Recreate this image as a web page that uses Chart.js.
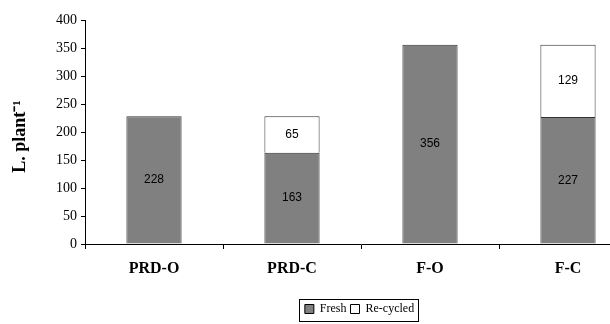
<!DOCTYPE html>
<html><head><meta charset="utf-8">
<script src="https://cdn.jsdelivr.net/npm/chart.js@4"></script>
<style>html,body{margin:0;padding:0;background:#fff;overflow:hidden}canvas{display:block}</style>
</head><body>
<canvas id="c" width="640" height="324"></canvas>
<script>
const categories = ["PRD-O", "PRD-C", "F-O", "F-C"];
const freshValues = [228, 163, 356, 227];
const recycledValues = [null, 65, null, 129];
const yTicks = [0, 50, 100, 150, 200, 250, 300, 350, 400];

const barLabels = {
  id: 'barLabels',
  afterDatasetsDraw(chart) {
    const ctx = chart.ctx;
    ctx.save();
    ctx.font = '12px "Liberation Sans", Arial, sans-serif';
    ctx.fillStyle = '#000';
    ctx.textAlign = 'center';
    ctx.textBaseline = 'middle';
    chart.data.datasets.forEach((ds, di) => {
      const meta = chart.getDatasetMeta(di);
      meta.data.forEach((bar, i) => {
        const v = ds.data[i];
        if (v == null) return;
        const p = bar.getProps(['x', 'y', 'base'], true);
        ctx.fillText(String(v), p.x, (p.y + p.base) / 2);
      });
    });
    ctx.restore();
  }
};
const legendBox = {
  id: 'legendBox',
  afterUpdate(chart) {
    const lg = chart.legend;
    if (!lg) return;
    const dx = 41, dy = 1;
    lg.left += dx; lg.right += dx; lg.top += dy; lg.bottom += dy;
    (lg.legendHitBoxes || []).forEach(h => { h.left += dx; h.top += dy; });
  },
  afterDraw(chart) {
    const lg = chart.legend;
    if (!lg || !lg.legendHitBoxes || !lg.legendHitBoxes.length) return;
    const hb = lg.legendHitBoxes;
    const x0 = hb[0].left - 6, x1 = hb[hb.length - 1].left + hb[hb.length - 1].width + 4;
    const y0 = hb[0].top - 4, y1 = hb[0].top + hb[0].height + 6;
    const ctx = chart.ctx;
    ctx.save();
    ctx.strokeStyle = '#000';
    ctx.lineWidth = 1;
    ctx.strokeRect(Math.round(x0) + 0.5, Math.round(y0) + 0.5, Math.round(x1 - x0), Math.round(y1 - y0));
    ctx.restore();
  }
};

new Chart(document.getElementById('c'), {
  type: 'bar',
  data: {
    labels: categories,
    datasets: [
      { label: 'Fresh', data: freshValues, backgroundColor: '#808080', borderColor: '#333333', borderWidth: 1, stack: 's', barPercentage: 0.4, categoryPercentage: 1.0 },
      { label: 'Re-cycled', data: recycledValues, backgroundColor: '#ffffff', borderColor: '#333333', borderWidth: 1, stack: 's', barPercentage: 0.4, categoryPercentage: 1.0 }
    ]
  },
  options: {
    responsive: false,
    animation: false,
    layout: { padding: { top: 20, right: 3, left: 0, bottom: 0 } },
    plugins: {
      tooltip: { enabled: false },
      legend: {
        position: 'bottom',
        labels: {
          boxWidth: 9, boxHeight: 9, padding: 4,
          color: '#000',
          font: { family: '"Liberation Serif", "Times New Roman", serif', size: 12 },
          generateLabels(chart) {
            return chart.data.datasets.map((ds, i) => ({
              text: ds.label, fillStyle: ds.backgroundColor, strokeStyle: '#000', lineWidth: 1, datasetIndex: i, fontColor: '#000'
            }));
          }
        }
      }
    },
    scales: {
      x: {
        stacked: true,
        offset: true,
        grid: { display: true, drawOnChartArea: false, drawTicks: true, tickLength: 5, color: '#000', offset: true },
        border: { color: '#000', width: 1 },
        ticks: { color: '#000', font: { family: '"Liberation Serif", "Times New Roman", serif', size: 16, weight: 'bold' }, padding: 10 },
        afterFit(scale) { scale.height = 54; }
      },
      y: {
        stacked: true,
        min: 0, max: 400,
        afterBuildTicks(scale) { scale.ticks = yTicks.map(v => ({ value: v })); },
        grid: { display: true, drawOnChartArea: false, drawTicks: true, tickLength: 4, color: '#000' },
        border: { color: '#000', width: 1 },
        ticks: { color: '#000', font: { family: '"Liberation Serif", "Times New Roman", serif', size: 14 }, padding: 4 },
        title: { display: true, text: 'L. plant⁻¹  ', color: '#000', font: { family: '"Liberation Serif", "Times New Roman", serif', size: 18, weight: 'bold' }, padding: { top: 10, bottom: 0 } },
        afterFit(scale) { scale.width = 85; }
      }
    }
  },
  plugins: [barLabels, legendBox]
});
</script>
</body></html>
